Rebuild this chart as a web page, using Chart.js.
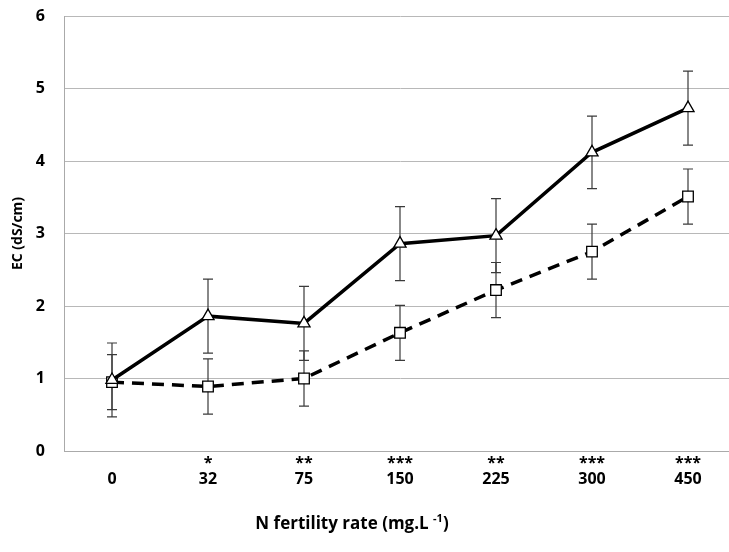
<!DOCTYPE html>
<html>
<head>
<meta charset="utf-8">
<script src="https://cdn.jsdelivr.net/npm/chart.js@4.4.1/dist/chart.umd.min.js"></script>
<style>
  html, body { margin: 0; padding: 0; background: #fff; overflow: hidden; width: 729px; height: 552px; }
  #wrap { width: 760px; height: 552px; }
</style>
</head>
<body>
<div id="wrap"><canvas id="chart1" width="760" height="552"></canvas></div>
<script>
// categories (N fertility rate) and significance marks
const rates = ['0', '32', '75', '150', '225', '300', '450']
const stars = ['', '*', '**', '***', '**', '***', '***']

// triangle series (solid line)
const triMean = [0.98, 1.86, 1.76, 2.86, 2.97, 4.12, 4.73]
const triErr  = [0.51, 0.51, 0.51, 0.51, 0.51, 0.50, 0.51]

// square series (dashed line)
const sqMean = [0.95, 0.89, 1.00, 1.63, 2.22, 2.75, 3.51]
const sqErr  = [0.38, 0.38, 0.38, 0.38, 0.38, 0.38, 0.38]

const labels = rates.map((r, i) => [stars[i], r])

// draws vertical error bars through the chart scales
const errorBars = {
  id: 'errorBars',
  beforeDatasetsDraw(chart) {
    const ctx = chart.ctx
    const x = chart.scales.x, y = chart.scales.y
    ctx.save()
    ctx.strokeStyle = '#3a3a3a'
    ctx.lineWidth = 1.2
    chart.data.datasets.forEach(ds => {
      ds.data.forEach((v, i) => {
        const px = x.getPixelForValue(i)
        const top = y.getPixelForValue(v + ds.err[i])
        const bot = y.getPixelForValue(v - ds.err[i])
        ctx.beginPath()
        ctx.moveTo(px, top); ctx.lineTo(px, bot)
        ctx.moveTo(px - 5, top); ctx.lineTo(px + 5, top)
        ctx.moveTo(px - 5, bot); ctx.lineTo(px + 5, bot)
        ctx.stroke()
      })
    })
    ctx.restore()
  }
}

// x axis title with superscript
const xTitle = {
  id: 'xTitle',
  afterDraw(chart) {
    const ctx = chart.ctx
    ctx.save()
    ctx.fillStyle = '#000'
    ctx.textBaseline = 'alphabetic'
    const main = 'N fertility rate (mg.L '
    const sup = '-1'
    const end = ')'
    ctx.font = 'bold 17px "Open Sans"'
    const w1 = ctx.measureText(main).width
    const w3 = ctx.measureText(end).width
    ctx.font = 'bold 11px "Open Sans"'
    const w2 = ctx.measureText(sup).width
    let sx = 352 - (w1 + w2 + w3) / 2
    const base = 529
    ctx.font = 'bold 17px "Open Sans"'
    ctx.fillText(main, sx, base)
    sx += w1
    ctx.font = 'bold 11px "Open Sans"'
    ctx.fillText(sup, sx, base - 7)
    sx += w2
    ctx.font = 'bold 17px "Open Sans"'
    ctx.fillText(end, sx, base)
    ctx.restore()
  }
}

new Chart(document.getElementById('chart1').getContext('2d'), {
  type: 'line',
  data: {
    labels,
    datasets: [{
      label: 'triangle',
      data: triMean,
      err: triErr,
      borderColor: '#000',
      borderWidth: 3.5,
      pointStyle: 'triangle',
      pointRadius: 7,
      pointBorderWidth: 1.3,
      pointBorderColor: '#000',
      pointBackgroundColor: '#fff',
      tension: 0
    }, {
      label: 'square',
      data: sqMean,
      err: sqErr,
      borderColor: '#000',
      borderWidth: 3.5,
      borderDash: [12, 8],
      pointStyle: 'rect',
      pointRadius: 7.5,
      pointBorderWidth: 1.3,
      pointBorderColor: '#000',
      pointBackgroundColor: '#fff',
      tension: 0
    }]
  },
  options: {
    responsive: false,
    animation: false,
    layout: { padding: { top: 16, right: 24, left: 0, bottom: 0 } },
    plugins: { legend: { display: false }, tooltip: { enabled: false } },
    scales: {
      x: {
        offset: true,
        grid: { display: false, drawTicks: false },
        border: { color: '#aaa', width: 1 },
        ticks: {
          color: '#000',
          padding: 4,
          maxRotation: 0,
          font: { family: 'Open Sans', weight: 'bold', size: 16, lineHeight: 1.0 }
        },
        afterFit(scale) { scale.height = 101; scale.paddingLeft = 0; scale.paddingRight = 0 }
      },
      y: {
        min: 0,
        max: 6,
        grid: { color: '#b8b8b8', lineWidth: 1, drawTicks: false },
        border: { color: '#aaa', width: 1 },
        ticks: {
          stepSize: 1,
          color: '#000',
          padding: 19,
          font: { family: 'Open Sans', weight: 'bold', size: 16 }
        },
        title: {
          display: true,
          text: 'EC (dS/cm)',
          color: '#000',
          padding: { top: 10, bottom: 0 },
          font: { family: 'Open Sans', weight: 'bold', size: 14 }
        },
        afterFit(scale) { scale.width = 64; scale.paddingTop = 0; scale.paddingBottom = 0 }
      }
    }
  },
  plugins: [errorBars, xTitle]
})
</script>
</body>
</html>
